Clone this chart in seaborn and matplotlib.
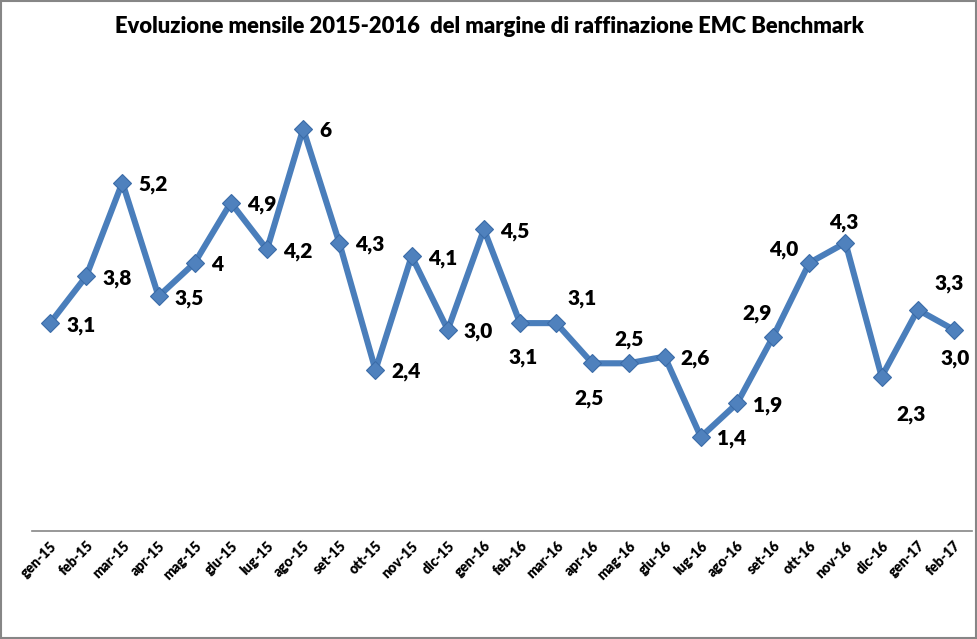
import matplotlib
matplotlib.use('Agg')
import matplotlib.pyplot as plt
import seaborn as sns
import pandas as pd
from matplotlib.patches import Rectangle

# dati
mesi = ['gen-15', 'feb-15', 'mar-15', 'apr-15', 'mag-15', 'giu-15', 'lug-15', 'ago-15', 'set-15',
        'ott-15', 'nov-15', 'dic-15', 'gen-16', 'feb-16', 'mar-16', 'apr-16', 'mag-16', 'giu-16',
        'lug-16', 'ago-16', 'set-16', 'ott-16', 'nov-16', 'dic-16', 'gen-17', 'feb-17']
margine = [3.1, 3.8, 5.2, 3.5, 4.0, 4.9, 4.2, 6.0, 4.3, 2.4, 4.1, 3.0, 4.5, 3.1, 3.1, 2.5,
           2.5, 2.6, 1.4, 1.9, 2.9, 4.0, 4.3, 2.3, 3.3, 3.0]
etichette = ['3,1', '3,8', '5,2', '3,5', '4', '4,9', '4,2', '6', '4,3', '2,4', '4,1', '3,0', '4,5',
             '3,1', '3,1', '2,5', '2,5', '2,6', '1,4', '1,9', '2,9', '4,0', '4,3', '2,3', '3,3', '3,0']
titolo = 'Evoluzione mensile 2015-2016  del margine di raffinazione EMC Benchmark'

# posizione delle etichette (pixel, centro) diverse da "a destra"
spost = {'feb-16': (3, -34), 'mar-16': (26, 25), 'apr-16': (-3, -35), 'mag-16': (1, 24),
         'set-16': (-16, 23), 'ott-16': (-26, 13), 'nov-16': (-2, 20), 'dic-16': (29, -38),
         'gen-17': (31, 26), 'feb-17': (1, -29)}

sns.set_theme(style='white')
plt.rcParams['font.family'] = ['Lato', 'DejaVu Sans']
plt.rcParams['font.weight'] = 'bold'
plt.rcParams['text.color'] = 'black'
plt.rcParams['xtick.color'] = 'black'

df = pd.DataFrame({'i': range(len(mesi)), 'mese': mesi, 'valore': margine})

fig = plt.figure(figsize=(9.78, 6.39), dpi=100)
ax = fig.add_axes([0.0327, 0.1695, 0.9612, 0.7335])

sns.lineplot(data=df, x='i', y='valore', ax=ax, color='#4A7EBB', linewidth=4.4,
             marker='D', markersize=9.5, markerfacecolor='#4F81BD',
             markeredgecolor='#3B6CA8', markeredgewidth=0.8)

for i, (m, v, t) in enumerate(zip(mesi, margine, etichette)):
    if m in spost:
        dx, dy = spost[m]
        ax.annotate(t, (i, v), xytext=(dx, dy), textcoords='offset pixels',
                    ha='center', va='center', fontsize=15, fontweight='heavy', color='black')
    else:
        ax.annotate(t, (i, v), xytext=(16, -2), textcoords='offset pixels',
                    ha='left', va='center', fontsize=15, fontweight='heavy', color='black')

ax.set_xlim(-0.5, len(mesi) - 0.5)
ax.set_ylim(0, 7)
ax.set_xticks(range(len(mesi)))
ax.set_xticklabels(mesi, rotation=45, ha='right', va='top', rotation_mode='anchor',
                   fontsize=10, fontweight='heavy', color='black')
ax.tick_params(axis='x', length=0, pad=6)
ax.set_yticks([])
ax.set_xlabel('')
ax.set_ylabel('')
for s in ['left', 'right', 'top']:
    ax.spines[s].set_visible(False)
ax.spines['bottom'].set_color('#868686')
ax.spines['bottom'].set_linewidth(1.2)

fig.text(0.5, 0.958, titolo, ha='center', va='center', fontsize=15.8, fontweight='heavy',
         color='black')

fig.patches.append(Rectangle((0.001, 0.002), 0.997, 0.996, transform=fig.transFigure,
                             fill=False, edgecolor='#868686', linewidth=1.5))

fig.savefig('out.png', dpi=100)
